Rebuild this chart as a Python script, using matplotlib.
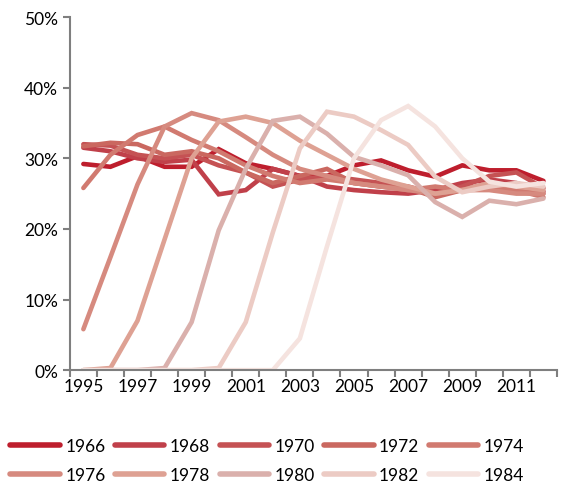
import matplotlib
matplotlib.use('Agg')
import matplotlib.pyplot as plt
from matplotlib.ticker import FixedLocator, PercentFormatter

plt.rcParams['font.family'] = ['Lato', 'DejaVu Sans']

# Years on the x axis
years = list(range(1995, 2013))

# Birth cohorts (legend labels)
cohorts = ['1966', '1968', '1970', '1972', '1974', '1976', '1978', '1980', '1982', '1984']

# Share per year for each cohort (in %)
s1966 = [29.2, 28.8, 30.3, 28.8, 28.8, 31.3, 29.3, 28.5, 27.5, 27.5, 29.0, 29.7, 28.3, 27.4, 29.0, 28.3, 28.3, 26.8]
s1968 = [31.5, 31.0, 30.0, 29.5, 29.8, 24.9, 25.5, 28.5, 27.5, 26.0, 25.5, 25.2, 25.0, 25.5, 26.5, 27.0, 26.5, 25.3]
s1970 = [32.0, 31.8, 30.5, 30.0, 30.5, 29.0, 28.0, 26.0, 27.0, 27.5, 27.0, 26.5, 26.0, 25.0, 26.0, 27.5, 28.0, 25.8]
s1972 = [31.7, 32.2, 32.0, 30.5, 31.0, 30.0, 28.0, 26.5, 27.5, 28.5, 26.5, 26.0, 25.8, 24.5, 25.5, 26.5, 25.5, 25.0]
s1974 = [25.8, 30.5, 33.3, 34.5, 32.6, 31.0, 29.0, 27.5, 26.5, 27.0, 26.5, 26.0, 25.5, 26.0, 25.5, 26.0, 25.5, 24.5]
s1976 = [5.8, 16.0, 26.3, 34.5, 36.4, 35.4, 33.0, 30.5, 28.5, 27.5, 26.5, 26.0, 25.5, 25.0, 25.5, 25.5, 25.0, 25.0]
s1978 = [0.0, 0.3, 7.0, 18.5, 30.0, 35.2, 35.9, 35.0, 32.5, 30.5, 28.5, 27.0, 26.0, 25.0, 25.5, 26.5, 26.0, 25.5]
s1980 = [0.0, 0.0, 0.0, 0.3, 6.8, 19.8, 28.5, 35.3, 35.9, 33.5, 30.2, 29.0, 27.6, 23.8, 21.7, 24.0, 23.5, 24.3]
s1982 = [0.0, 0.0, 0.0, 0.0, 0.0, 0.3, 6.8, 19.5, 31.4, 36.6, 35.9, 34.0, 31.9, 27.4, 25.2, 26.0, 26.5, 26.0]
s1984 = [0.0, 0.0, 0.0, 0.0, 0.0, 0.0, 0.0, 0.0, 4.5, 17.5, 30.0, 35.4, 37.4, 34.5, 30.0, 26.7, 26.0, 26.5]

series = [s1966, s1968, s1970, s1972, s1974, s1976, s1978, s1980, s1982, s1984]
colors = ['#BE1E2D', '#C0404A', '#C55254', '#CA6860', '#D17A70',
          '#D68A7F', '#DEA193', '#DAB0AC', '#ECCBC4', '#F5E3DF']

fig = plt.figure(figsize=(5.82, 4.89), dpi=100)
ax = fig.add_axes([0.120, 0.241, 0.837, 0.722])

x = list(range(len(years)))
lines = []
for name, vals, c in zip(cohorts, series, colors):
    ln, = ax.plot(x, [v / 100 for v in vals], color=c, lw=3.3, label=name,
                  solid_joinstyle='miter', solid_capstyle='round')
    lines.append(ln)

# y axis
ax.set_ylim(0, 0.5)
ax.set_yticks([0, 0.1, 0.2, 0.3, 0.4, 0.5])
ax.yaxis.set_major_formatter(PercentFormatter(1.0, decimals=0))

# x axis: tick marks between categories, labels every other year
ax.set_xlim(-0.5, len(years) - 0.5)
ax.xaxis.set_major_locator(FixedLocator([i - 0.5 for i in range(len(years) + 1)]))
ax.xaxis.set_major_formatter(plt.NullFormatter())
ax.xaxis.set_minor_locator(FixedLocator(x[::2]))
ax.set_xticklabels([str(y) for y in years[::2]], minor=True)

for side in ['top', 'right']:
    ax.spines[side].set_visible(False)
for side in ['left', 'bottom']:
    ax.spines[side].set_color('#7f7f7f')
    ax.spines[side].set_linewidth(1.5)

ax.tick_params(axis='both', which='major', color='#7f7f7f', width=1.5, length=5,
               direction='out', labelsize=12.5)
ax.tick_params(axis='x', which='minor', length=0, labelsize=12.5, pad=6)

# legend filled row by row (matplotlib fills columns first)
ncol = 5
order = [i * ncol + j for j in range(ncol) for i in range(2)]
leg = fig.legend([lines[k] for k in order], [cohorts[k] for k in order],
                 loc='lower left', bbox_to_anchor=(0.009, 0.0), ncol=ncol, frameon=False,
                 fontsize=12.5, handlelength=2.85, handletextpad=0.3,
                 columnspacing=0.55, labelspacing=0.75, borderaxespad=0.0,
                 borderpad=0.3)
for h in leg.get_lines():
    h.set_linewidth(4)

fig.savefig('out.png', dpi=100)
